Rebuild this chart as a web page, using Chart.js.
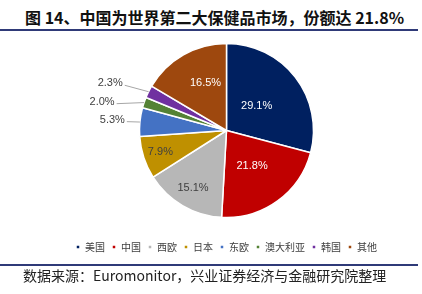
<!DOCTYPE html>
<html>
<head>
<meta charset="utf-8">
<script src="https://cdn.jsdelivr.net/npm/chart.js@4"></script>
<style>
    html, body { margin: 0; padding: 0; background: #fff; }
    body { width: 422px; height: 294px; position: relative; overflow: hidden; }
    #title {
        position: absolute; left: 25px; top: 5px;
        font: bold 16px "Noto Sans CJK SC", sans-serif;
        color: #111; white-space: nowrap;
    }
    .rule { position: absolute; left: 0; width: 418px; height: 2px; background: #2f3a78; }
    #source {
        position: absolute; left: 23px; top: 265px;
        font: 14px "Noto Sans CJK SC", sans-serif;
        color: #222; white-space: nowrap;
    }
    #wrap { position: absolute; left: 0; top: 0; width: 422px; height: 294px; }
</style>
</head>
<body>
<div id="title">图 14、中国为世界第二大保健品市场，份额达 21.8%</div>
<div class="rule" style="top:29px"></div>
<div id="wrap"><canvas id="pieChart"></canvas></div>
<div class="rule" style="top:264px"></div>
<div id="source">数据来源：Euromonitor，兴业证券经济与金融研究院整理</div>

<script>
// ===== Data =====
const regions = ['美国', '中国', '西欧', '日本', '东欧', '澳大利亚', '韩国', '其他'];
const shares = [29.1, 21.8, 15.1, 7.9, 5.3, 2.0, 2.3, 16.5];
const sliceColors = ['#002060', '#c00000', '#b7b7b7', '#bf9000', '#4472c4', '#548235', '#7030a0', '#9e480e'];

// label placement per slice: f = fraction of radius, da = angle shift (deg), out = leader line
const labelPlacement = [
    { f: 0.45, da: -2, color: '#ffffff' },
    { f: 0.50, da: 0, color: '#ffffff' },
    { f: 0.76, da: 0, color: '#404040' },
    { f: 0.80, da: 0, color: '#404040' },
    { f: 1.15, da: -0.5, out: true },
    { f: 1.30, da: -5, out: true },
    { f: 1.28, da: -2.5, out: true },
    { f: 0.60, da: 6, color: '#ffffff' }
];

// ===== Label plugin =====
const sliceLabels = {
    id: 'sliceLabels',
    afterDatasetsDraw(chart) {
        const ctx = chart.ctx;
        const meta = chart.getDatasetMeta(0);
        ctx.save();
        ctx.font = '11px "Liberation Sans", Arial, sans-serif';
        meta.data.forEach((arc, i) => {
            const p = arc.getProps(['x', 'y', 'startAngle', 'endAngle', 'outerRadius'], true);
            const cfg = labelPlacement[i];
            const mid = (p.startAngle + p.endAngle) / 2;
            const a = mid + cfg.da * Math.PI / 180;
            const ax = p.x + Math.cos(a) * p.outerRadius * cfg.f;
            const ay = p.y + Math.sin(a) * p.outerRadius * cfg.f;
            const text = shares[i].toFixed(1) + '%';
            if (cfg.out) {
                const ex = p.x + Math.cos(mid) * p.outerRadius;
                const ey = p.y + Math.sin(mid) * p.outerRadius;
                ctx.strokeStyle = '#a6a6a6';
                ctx.lineWidth = 1;
                ctx.beginPath();
                ctx.moveTo(ax, ay);
                ctx.lineTo(ex, ey);
                ctx.stroke();
                ctx.fillStyle = '#404040';
                ctx.textAlign = 'right';
                ctx.textBaseline = 'middle';
                ctx.fillText(text, ax - 2, ay - 2);
            } else {
                ctx.fillStyle = cfg.color;
                ctx.textAlign = 'center';
                ctx.textBaseline = 'middle';
                ctx.fillText(text, ax, ay);
            }
        });
        ctx.restore();
    }
};

// ===== Chart =====
new Chart(document.getElementById('pieChart'), {
    type: 'pie',
    data: {
        labels: regions,
        datasets: [{
            data: shares,
            backgroundColor: sliceColors,
            borderColor: '#ffffff',
            borderWidth: 1.5,
            hoverBorderWidth: 1.5
        }]
    },
    options: {
        responsive: true,
        maintainAspectRatio: false,
        animation: false,
        radius: 87,
        layout: { padding: { top: 26, bottom: 32, left: 31, right: 0 } },
        plugins: {
            tooltip: { enabled: false },
            legend: {
                position: 'bottom',
                labels: {
                    boxWidth: 4,
                    boxHeight: 4,
                    padding: 7,
                    color: '#404040',
                    font: { size: 10, family: '"Noto Sans CJK SC", sans-serif' }
                }
            }
        }
    },
    plugins: [sliceLabels]
});
</script>
</body>
</html>
